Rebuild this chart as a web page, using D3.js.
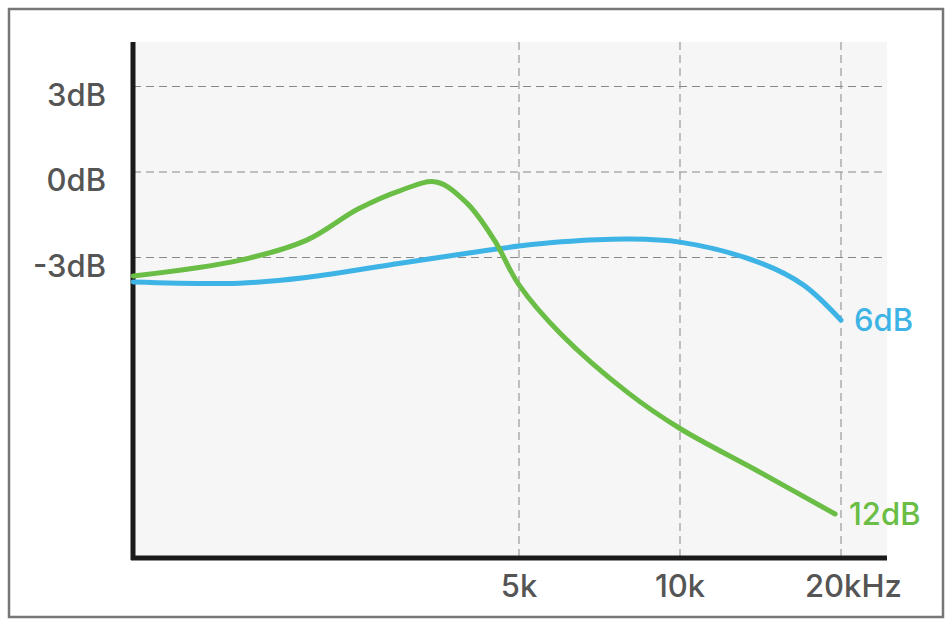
<!DOCTYPE html>
<html>
<head>
<meta charset="utf-8">
<script src="https://cdn.jsdelivr.net/npm/d3@7"></script>
<style>
  body { margin: 0; background: #fff; }
  text { font-family: Inter, "Open Sans", sans-serif; font-weight: 500; }
</style>
</head>
<body>
<div class="chart"></div>
<script>
const width = 952;
const height = 625;

const dbTicks = [3, 0, -3];
const freqTicks = [5000, 10000, 20000];
const freqTickLabels = ['5k', '10k', '20kHz'];

const freq6 = [950, 1500, 2000, 3000, 4000, 5000, 6000, 8000, 10000, 14000, 17000, 20000];
const db6 = [-3.86, -3.9, -3.7, -3.2, -2.85, -2.6, -2.45, -2.35, -2.46, -3.16, -3.96, -5.2];

const freq12 = [950, 1500, 2000, 2500, 3000, 3500, 4000, 4500, 5000, 6000, 8000, 10000, 14000, 19500];
const db12 = [-3.65, -3.1, -2.4, -1.3, -0.65, -0.35, -1.1, -2.4, -3.96, -5.7, -7.75, -9.0, -10.5, -12.0];

const plot = { left: 133, right: 887, top: 42, bottom: 558 };

const svg = d3.select('.chart')
  .append('svg')
  .attr('width', width)
  .attr('height', height);

// outer frame
svg.append('rect')
  .attr('x', 9).attr('y', 9)
  .attr('width', 934).attr('height', 608)
  .attr('fill', 'none')
  .attr('stroke', '#777')
  .attr('stroke-width', 2.5);

svg.append('rect')
  .attr('x', plot.left).attr('y', plot.top)
  .attr('width', plot.right - plot.left).attr('height', plot.bottom - plot.top)
  .attr('fill', '#f6f6f6');

const xScale = d3.scaleLog()
  .domain([5000 / Math.pow(2, 386 / 161), 5000 * Math.pow(2, 368 / 161)])
  .range([plot.left, plot.right]);

const yScale = d3.scaleLinear()
  .domain([0, 3])
  .range([172, 86.5]);

// grid
svg.selectAll('.hgrid')
  .data(dbTicks)
  .enter()
  .append('line')
  .attr('x1', plot.left).attr('x2', plot.right)
  .attr('y1', d => yScale(d)).attr('y2', d => yScale(d))
  .attr('stroke', '#888').attr('stroke-width', 1)
  .attr('stroke-dasharray', '8,5');

svg.selectAll('.vgrid')
  .data(freqTicks)
  .enter()
  .append('line')
  .attr('x1', d => xScale(d)).attr('x2', d => xScale(d))
  .attr('y1', plot.top).attr('y2', plot.bottom)
  .attr('stroke', '#888').attr('stroke-width', 1)
  .attr('stroke-dasharray', '8,5');

// axes
svg.append('line')
  .attr('x1', plot.left).attr('x2', plot.left)
  .attr('y1', plot.top).attr('y2', plot.bottom + 2)
  .attr('stroke', '#1a1a1a').attr('stroke-width', 5);
svg.append('line')
  .attr('x1', plot.left - 2).attr('x2', plot.right)
  .attr('y1', plot.bottom).attr('y2', plot.bottom)
  .attr('stroke', '#1a1a1a').attr('stroke-width', 5);

// tick labels
svg.selectAll('.ylab')
  .data(dbTicks)
  .enter()
  .append('text')
  .attr('x', 106)
  .attr('y', d => yScale(d) + 19)
  .attr('text-anchor', 'end')
  .attr('font-size', 31)
  .attr('fill', '#555')
  .text(d => d + 'dB');

svg.selectAll('.xlab')
  .data(freqTicks)
  .enter()
  .append('text')
  .attr('x', (d, i) => i === 2 ? xScale(d) - 36 : xScale(d))
  .attr('y', 597)
  .attr('text-anchor', (d, i) => i === 2 ? 'start' : 'middle')
  .attr('font-size', 31)
  .attr('fill', '#555')
  .text((d, i) => freqTickLabels[i]);

// curves
const line = d3.line()
  .x(d => xScale(d[0]))
  .y(d => yScale(d[1]))
  .curve(d3.curveCatmullRom.alpha(0.5));

svg.append('path')
  .datum(d3.zip(freq6, db6))
  .attr('d', line)
  .attr('fill', 'none')
  .attr('stroke', '#3db4e5')
  .attr('stroke-width', 5)
  .attr('stroke-linecap', 'round');

svg.append('path')
  .datum(d3.zip(freq12, db12))
  .attr('d', line)
  .attr('fill', 'none')
  .attr('stroke', '#6abd45')
  .attr('stroke-width', 5)
  .attr('stroke-linecap', 'round');

svg.append('text')
  .attr('x', xScale(20000) + 13)
  .attr('y', yScale(db6[db6.length - 1]) + 11)
  .attr('font-size', 31)
  .attr('fill', '#3db4e5')
  .text('6dB');

svg.append('text')
  .attr('x', xScale(20000) + 8)
  .attr('y', yScale(db12[db12.length - 1]) + 11)
  .attr('font-size', 31)
  .attr('fill', '#6abd45')
  .text('12dB');
</script>
</body>
</html>
